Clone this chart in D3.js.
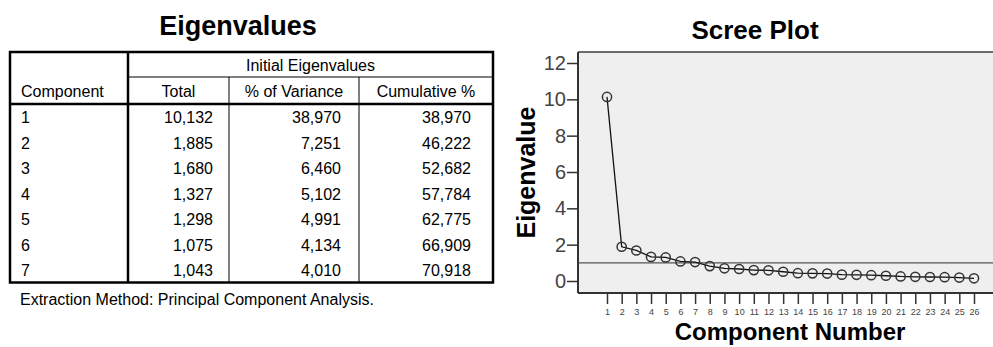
<!DOCTYPE html>
<html>
<head>
<meta charset="utf-8">
<script src="https://cdn.jsdelivr.net/npm/d3@7"></script>
<style>
  html, body { margin: 0; padding: 0; background: #fff; }
  svg { display: block; font-family: "Liberation Sans", Arial, sans-serif; }
</style>
</head>
<body>
<svg id="chart" width="993" height="347"></svg>
<script>
// Extracted components (table rows)
const components = [1, 2, 3, 4, 5, 6, 7];
const totals = [10.132, 1.885, 1.680, 1.327, 1.298, 1.075, 1.043];
const pctVariance = [38.970, 7.251, 6.460, 5.102, 4.991, 4.134, 4.010];
const cumulativePct = [38.970, 46.222, 52.682, 57.784, 62.775, 66.909, 70.918];

// Remaining eigenvalues, components 8..26
const remainingEigen = [0.82, 0.70, 0.66, 0.60, 0.59, 0.51, 0.43, 0.42, 0.41, 0.35, 0.34, 0.32,
                        0.29, 0.25, 0.23, 0.22, 0.21, 0.19, 0.15];
const eigenvalues = totals.concat(remainingEigen);
const componentNumbers = eigenvalues.map((d, i) => i + 1);
const yTicks = [0, 2, 4, 6, 8, 10, 12];
const kaiserCutoff = 1;

const svg = d3.select("#chart");

// ---------- Eigenvalues table ----------
const locale = d3.formatLocale({decimal: ",", thousands: ".", grouping: [3], currency: ["", ""]});
const fmt = locale.format(".3f");

const tbl = svg.append("g");
const colEdges = [10, 128, 229, 359, 493];
const topY = 52, hdrLine = 77, bodyTop = 104, rowH = 25.5;
const bottomY = bodyTop + rowH * components.length;

tbl.append("text").attr("x", 238).attr("y", 35).attr("text-anchor", "middle")
  .attr("font-size", 27).attr("font-weight", "bold").text("Eigenvalues");

// header separators
tbl.append("line").attr("x1", colEdges[1]).attr("x2", colEdges[4]).attr("y1", hdrLine).attr("y2", hdrLine)
  .attr("stroke", "#000").attr("stroke-width", 1);
[2, 3].forEach(i => {
  tbl.append("line").attr("x1", colEdges[i]).attr("x2", colEdges[i]).attr("y1", hdrLine).attr("y2", bottomY)
    .attr("stroke", "#000").attr("stroke-width", 1);
});
tbl.append("line").attr("x1", colEdges[1]).attr("x2", colEdges[1]).attr("y1", topY).attr("y2", bottomY)
  .attr("stroke", "#000").attr("stroke-width", 2.5);
tbl.append("line").attr("x1", colEdges[0]).attr("x2", colEdges[4]).attr("y1", bodyTop).attr("y2", bodyTop)
  .attr("stroke", "#000").attr("stroke-width", 2.5);
tbl.append("rect").attr("x", colEdges[0]).attr("y", topY)
  .attr("width", colEdges[4] - colEdges[0]).attr("height", bottomY - topY)
  .attr("fill", "none").attr("stroke", "#000").attr("stroke-width", 2.5);

const tstyle = sel => sel.attr("font-size", 16).attr("fill", "#000");
tbl.append("text").call(tstyle).attr("x", (colEdges[1] + colEdges[4]) / 2).attr("y", 71)
  .attr("text-anchor", "middle").text("Initial Eigenvalues");
tbl.append("text").call(tstyle).attr("x", 21).attr("y", 97).text("Component");
[["Total", 1], ["% of Variance", 2], ["Cumulative %", 3]].forEach(([t, i]) => {
  tbl.append("text").call(tstyle).attr("x", (colEdges[i] + colEdges[i + 1]) / 2).attr("y", 97)
    .attr("text-anchor", "middle").text(t);
});

const rowY = d3.scaleLinear().domain([0, 1]).range([bodyTop + 19, bodyTop + 19 + rowH]);
const rows = tbl.selectAll("g.row").data(components).join("g").attr("class", "row");
rows.append("text").call(tstyle).attr("x", 21).attr("y", (d, i) => rowY(i)).text(d => d);
rows.append("text").call(tstyle).attr("x", 213).attr("y", (d, i) => rowY(i))
  .attr("text-anchor", "end").text((d, i) => fmt(totals[i]));
rows.append("text").call(tstyle).attr("x", 341).attr("y", (d, i) => rowY(i))
  .attr("text-anchor", "end").text((d, i) => fmt(pctVariance[i]));
rows.append("text").call(tstyle).attr("x", 471).attr("y", (d, i) => rowY(i))
  .attr("text-anchor", "end").text((d, i) => fmt(cumulativePct[i]));

tbl.append("text").call(tstyle).attr("x", 20).attr("y", 305)
  .text("Extraction Method: Principal Component Analysis.");

// ---------- Scree plot ----------
const x = d3.scaleLinear().domain([1, 26]).range([607, 974]);
const y = d3.scaleLinear().domain([0, 12]).range([281, 63]);
const plotLeft = 578, plotRight = 995;
const plotTop = y(12.6), plotBottom = y(-0.66);

const sp = svg.append("g");
sp.append("text").attr("x", 755).attr("y", 39).attr("text-anchor", "middle")
  .attr("font-size", 26).attr("font-weight", "bold").text("Scree Plot");

sp.append("rect").attr("x", plotLeft).attr("y", plotTop)
  .attr("width", plotRight - plotLeft).attr("height", plotBottom - plotTop)
  .attr("fill", "#efefef");
sp.append("line").attr("x1", plotLeft).attr("x2", plotRight).attr("y1", plotTop).attr("y2", plotTop)
  .attr("stroke", "#6b6b6b").attr("stroke-width", 2);

// reference line at eigenvalue 1
sp.append("line").attr("x1", plotLeft).attr("x2", plotRight)
  .attr("y1", y(kaiserCutoff)).attr("y2", y(kaiserCutoff))
  .attr("stroke", "#555").attr("stroke-width", 1.3);

// y axis
const yAxis = d3.axisLeft(y).tickValues(yTicks).tickSize(11).tickPadding(1);
const gy = sp.append("g").attr("transform", `translate(${plotLeft},0)`).call(yAxis);
gy.select(".domain").remove();
gy.selectAll(".tick line").attr("stroke", "#333").attr("stroke-width", 1.5);
gy.selectAll(".tick text").attr("font-size", 20).attr("fill", "#444")
  .attr("font-family", "Liberation Sans, Arial, sans-serif");
sp.append("line").attr("x1", plotLeft).attr("x2", plotLeft).attr("y1", plotTop).attr("y2", plotBottom)
  .attr("stroke", "#333").attr("stroke-width", 2);

// x axis
const xAxis = d3.axisBottom(x).tickValues(componentNumbers).tickSize(10).tickPadding(5).tickFormat(d3.format("d"));
const gx = sp.append("g").attr("transform", `translate(0,${plotBottom + 1})`).call(xAxis);
gx.select(".domain").remove();
gx.selectAll(".tick line").attr("stroke", "#333").attr("stroke-width", 1.5);
gx.selectAll(".tick text").attr("font-size", 9).attr("fill", "#444")
  .attr("font-family", "Liberation Sans, Arial, sans-serif");
sp.append("line").attr("x1", plotLeft).attr("x2", plotRight).attr("y1", plotBottom).attr("y2", plotBottom)
  .attr("stroke", "#333").attr("stroke-width", 2);

// scree line and markers
sp.append("path").datum(eigenvalues)
  .attr("d", d3.line().x((d, i) => x(i + 1)).y(d => y(d)))
  .attr("fill", "none").attr("stroke", "#111").attr("stroke-width", 1.3);
sp.selectAll("circle.pt").data(eigenvalues).join("circle").attr("class", "pt")
  .attr("cx", (d, i) => x(i + 1)).attr("cy", d => y(d)).attr("r", 4.6)
  .attr("fill", "none").attr("stroke", "#333").attr("stroke-width", 1.5);

// axis titles
sp.append("text").attr("transform", `translate(535,${(plotTop + plotBottom) / 2}) rotate(-90)`)
  .attr("text-anchor", "middle").attr("font-size", 25).attr("font-weight", "bold").text("Eigenvalue");
sp.append("text").attr("x", 790).attr("y", 340).attr("text-anchor", "middle")
  .attr("font-size", 24).attr("font-weight", "bold").text("Component Number");
</script>
</body>
</html>
